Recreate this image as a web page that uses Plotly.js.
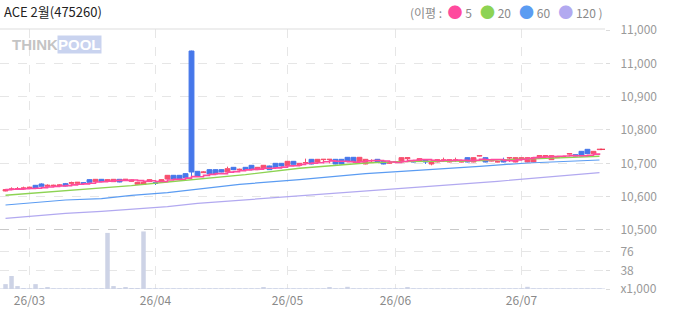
<!DOCTYPE html>
<html><head><meta charset="utf-8">
<script src="https://cdn.plot.ly/plotly-3.0.1.min.js"></script>
<style>html,body{margin:0;padding:0;background:#fff}#chart{width:673px;height:315px}</style>
</head><body><div id="chart"></div>
<script>
// ---- data (index = trading day) ----
const monthTickIdx = [4, 25, 47, 65, 86];
const monthTickText = ['26/03','26/04','26/05','26/06','26/07'];
const opens = [10617,10621,10622,10623,10625,10634,10638,10631,10632,10633,
10639,10640,10640,10642,10651,10645,10652,10646,10645,10652,
10650,10646,10637,10637,10645,10642,10645,10653,10664,10664,
10669,11037,10676,10672,10681,10681,10681,10674,10688,10680,
10688,10694,10681,10684,10692,10700,10700,10693,10706,10694,
10701,10712,10704,10711,10711,10712,10712,10718,10718,10705,
10698,10702,10712,10706,10700,10704,10704,10714,10708,10706,
10711,10698,10704,10709,10704,10709,10704,10717,10704,10722,
10717,10707,10704,10711,10716,10704,10711,10704,10704,10720,
10720,10711,10717,10719,10728,10726,10736,10742,10729,10741];
const closes = [10621,10623,10624,10626,10628,10626,10631,10634,10634,10635,
10632,10642,10643,10640,10643,10652,10645,10651,10652,10644,
10652,10650,10643,10643,10651,10640,10651,10664,10653,10653,
10657,10674,10661,10674,10668,10668,10674,10684,10681,10682,
10681,10681,10688,10694,10681,10688,10692,10706,10697,10700,
10702,10698,10712,10712,10712,10698,10698,10705,10705,10718,
10712,10703,10704,10698,10703,10705,10717,10717,10704,10714,
10704,10706,10711,10710,10711,10710,10705,10704,10717,10723,
10704,10708,10705,10704,10717,10717,10717,10717,10717,10723,
10723,10723,10720,10720,10729,10722,10722,10729,10736,10742];
const highs = [10623,10628,10629,10630,10630,10635,10640,10637,10636,10637,
10641,10645,10644,10643,10652,10653,10653,10652,10653,10653,
10653,10651,10644,10644,10652,10643,10652,10665,10665,10665,
10670,11038,10677,10676,10682,10682,10682,10690,10689,10684,
10689,10695,10689,10695,10693,10701,10701,10707,10707,10701,
10714,10713,10713,10713,10713,10713,10713,10719,10719,10719,
10713,10712,10713,10707,10704,10706,10718,10718,10709,10715,
10712,10707,10712,10717,10712,10717,10706,10718,10718,10724,
10718,10709,10706,10717,10718,10718,10718,10718,10718,10724,
10724,10724,10721,10721,10730,10727,10737,10743,10737,10743];
const lows = [10616,10620,10621,10622,10624,10625,10630,10630,10631,10632,
10631,10639,10639,10636,10642,10644,10644,10645,10644,10643,
10649,10645,10636,10636,10644,10635,10644,10652,10652,10652,
10656,10661,10660,10671,10667,10667,10673,10673,10680,10679,
10680,10680,10680,10683,10680,10687,10691,10692,10696,10693,
10700,10697,10699,10700,10700,10697,10697,10704,10704,10704,
10697,10701,10703,10697,10699,10703,10703,10704,10703,10704,
10698,10694,10703,10704,10703,10704,10703,10703,10703,10721,
10703,10706,10703,10703,10704,10703,10710,10703,10703,10719,
10719,10710,10716,10718,10727,10721,10721,10728,10728,10740];
const volumes = [10,26.7,6,2,1.5,10,2,4,1.5,1.5,
1.5,1.5,1.5,1.5,1.5,1.5,1.5,115,6,2,
4,2,2,118,1.5,1.5,1.5,1.5,1.5,1.5,
1.5,1.5,1.5,1.5,1.5,1.5,1.5,1.5,1.5,1.5,
1.5,1.5,1.5,4,1.5,1.5,1.5,1.5,1.5,1.5,
1.5,1.5,1.5,1.5,4,1.5,1.5,4.5,1.5,1.5,
1.5,1.5,1.5,1.5,1.5,1.5,1.5,4,1.5,1.5,
1.5,1.5,1.5,1.5,1.5,1.5,1.5,1.5,1.5,1.5,
1.5,1.5,1.5,1.5,1.5,1.5,1.5,4.5,1.5,1.5,
1.5,1.5,1.5,1.5,1.5,1.5,1.5,1.5,1.5,1.5];
// moving averages (index, value)
const ma20Idx = [0,5,10,16,21,27,32,40,49,55,60,66,77,89,95,99];
const ma20Val = [10604,10611,10619,10626,10633,10644,10653,10666,10685,10694,10701,10705,10707,10714,10718,10721];
const ma60Idx = [0,5,10,16,21,27,31,39,49,55,60,66,71,79,87,97,99];
const ma60Val = [10575,10582,10590,10594,10604,10612,10621,10637,10651,10661,10669,10676,10681,10691,10701,10709,10710];
const ma120Idx = [0,5,10,16,21,27,32,49,66,82,99];
const ma120Val = [10535,10543,10550,10556,10563,10570,10580,10603,10624,10646,10672];
const priceTicks = [10500,10600,10700,10800,10900,11000,11100];
const priceTickText = ['10,500','10,600','10,700','10,800','10,900','11,000','11,000'];
const volTicks = [0,38,76];
const volTickText = ['x1,000','38','76'];

const idx = closes.map((_, i) => i);
const ma5 = closes.map((_, i) => {
  const s = Math.max(0, i - 4);
  const w = closes.slice(s, i + 1);
  return w.reduce((a, b) => a + b, 0) / w.length;
});

const RED = '#f7506f', BLUE = '#4677ea';
const F = 'Noto Sans CJK KR, Noto Sans, sans-serif';

const traces = [
  {type:'scatter', mode:'lines', x:ma120Idx, y:ma120Val, line:{color:'#b2a9f0', width:1.2}, hoverinfo:'skip', xaxis:'x', yaxis:'y'},
  {type:'scatter', mode:'lines', x:ma60Idx, y:ma60Val, line:{color:'#5b9cf2', width:1.2}, hoverinfo:'skip', xaxis:'x', yaxis:'y'},
  {type:'scatter', mode:'lines', x:ma20Idx, y:ma20Val, line:{color:'#8dd353', width:1.4}, hoverinfo:'skip', xaxis:'x', yaxis:'y'},
  {type:'scatter', mode:'lines', x:idx, y:ma5, line:{color:'#ff4a9e', width:1.6, shape:'hv'}, hoverinfo:'skip', xaxis:'x', yaxis:'y'},
  {type:'candlestick', x:idx, open:opens, high:highs, low:lows, close:closes,
   increasing:{line:{color:RED, width:1}, fillcolor:RED},
   decreasing:{line:{color:BLUE, width:1}, fillcolor:BLUE},
   whiskerwidth:0, xaxis:'x', yaxis:'y'},
  {type:'bar', x:idx, y:volumes, marker:{color:'#cdd3e6'}, width:0.75, xaxis:'x', yaxis:'y2', hoverinfo:'skip'}
];

const layout = {
  width:673, height:315,
  margin:{l:0, r:68, t:29, b:26},
  paper_bgcolor:'#fff', plot_bgcolor:'#fff',
  showlegend:false,
  boxgap:0.1, boxgroupgap:0.1,
  font:{family:F, size:12, color:'#999'},
  xaxis:{anchor:'y2', range:[-0.92, 99.92], tickmode:'array', tickvals:monthTickIdx, ticktext:monthTickText,
    showgrid:true, gridcolor:'#e6e6e6', griddash:'dash', gridwidth:1, zeroline:false,
    ticks:'', ticklabelstandoff:3, tickfont:{family:F, size:12, color:'#8a8a8a'},
    rangeslider:{visible:false}, showline:false, fixedrange:true},
  yaxis:{domain:[0.227, 1], side:'right', range:[10500, 11103], tickmode:'array', tickvals:priceTicks, ticktext:priceTickText,
    showgrid:true, gridcolor:'#e6e6e6', griddash:'dash', zeroline:false,
    ticks:'outside', ticklen:4, tickcolor:'#dcdcdc', ticklabelstandoff:8,
    tickfont:{family:F, size:12, color:'#9a9a9a'}},
  yaxis2:{domain:[0, 0.227], side:'right', range:[0, 121], tickmode:'array', tickvals:volTicks, ticktext:volTickText,
    showgrid:true, gridcolor:'#e6e6e6', griddash:'dash', zeroline:false,
    ticks:'outside', ticklen:4, tickcolor:'#dcdcdc', ticklabelstandoff:8,
    tickfont:{family:F, size:12, color:'#9a9a9a'}},
  shapes:[
    {type:'line', xref:'paper', yref:'paper', x0:0, x1:1, y0:1, y1:1, line:{color:'#dddddd', width:1}},
    {type:'line', xref:'paper', yref:'y', x0:0, x1:1, y0:priceTicks[0], y1:priceTicks[0], line:{color:'#9a9a9a', width:1, dash:'dash'}},
    {type:'line', xref:'paper', yref:'y2', x0:0, x1:1, y0:0, y1:0, line:{color:'#cdd3e6', width:1}},
    {type:'line', xref:'paper', yref:'y', x0:0.992, x1:1.0, y0:closes[closes.length-1], y1:closes[closes.length-1], line:{color:'#f03050', width:1.2}}
  ],
  annotations:[
    {xref:'paper', yref:'paper', x:0.004, y:1.066, xanchor:'left', yanchor:'middle', showarrow:false,
     text:'ACE 2월(475260)', font:{family:F, size:13, color:'#222'}},
    {xref:'paper', yref:'paper', x:1.0, y:1.066, xanchor:'right', yanchor:'middle', showarrow:false,
     text:'(이평 :  <span style="color:#ff4a9e;font-size:15px">●</span> 5   <span style="color:#8dd353;font-size:15px">●</span> 20   <span style="color:#5b9cf2;font-size:15px">●</span> 60   <span style="color:#b2a9f0;font-size:15px">●</span> 120 )',
     font:{family:F, size:12, color:'#8a8a8a'}},
    {xref:'paper', yref:'paper', x:10/605, y:0.942, xanchor:'left', yanchor:'middle', showarrow:false,
     text:'<b>THINK</b>', font:{family:'Liberation Sans, sans-serif', size:15, color:'#c4c4c4'}},
    {xref:'paper', yref:'paper', x:57/605, y:0.942, xanchor:'left', yanchor:'middle', showarrow:false,
     text:'<b>POOL</b>', bgcolor:'#c9d3ef', borderpad:0, font:{family:'Liberation Sans, sans-serif', size:15, color:'#ffffff'}}
  ]
};

Plotly.newPlot('chart', traces, layout, {staticPlot:true, displayModeBar:false});
</script>
</body></html>
